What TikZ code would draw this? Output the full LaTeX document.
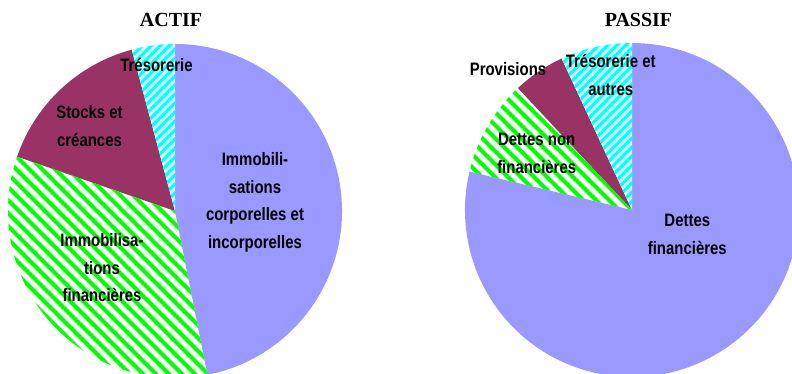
\documentclass[tikz,border=0pt]{standalone}
\usepackage{fontspec}
\newfontfamily\etiqfont[FakeStretch=0.83]{Liberation Sans}
\newfontfamily\titrefont{Liberation Serif}
\definecolor{lavande}{HTML}{9999FF}
\definecolor{bordeaux}{HTML}{993366}
\definecolor{vertvif}{HTML}{00FF00}
\definecolor{cyanclair}{HTML}{CCFFFF}
\definecolor{cyanvif}{HTML}{00FFFF}
\tikzset{
  etiq/.style={font=\etiqfont\bfseries\fontsize{18}{27.5}\selectfont, align=center, anchor=base, inner sep=0pt},
  titre/.style={font=\titrefont\bfseries\fontsize{20}{24}\selectfont, anchor=base, inner sep=0pt},
  raievert/.style={vertvif, line width=4pt},
  raiecyan/.style={cyanvif, line width=3pt}
}
\begin{document}
\begin{tikzpicture}[x=1pt,y=1pt]
\useasboundingbox (0,0) rectangle (792,373);
\coordinate (actif) at (175,162);
\coordinate (passif) at (632,163);
% ACTIF
\fill[lavande] (actif) -- ++(-78.8:167pt) arc[start angle=-78.8, end angle=90, radius=167pt] -- cycle;
\fill[bordeaux] (actif) -- ++(105:167pt) arc[start angle=105, end angle=161, radius=167pt] -- cycle;
\begin{scope}
\clip (actif) -- ++(161:167pt) arc[start angle=161, end angle=281.2, radius=167pt] -- cycle;
\foreach \k in {-30,...,30}
  \draw[raievert] ([shift={(\k*13pt,0)}]actif) ++(-200pt,200pt) -- ++(400pt,-400pt);
\end{scope}
\begin{scope}
\clip (actif) -- ++(90:167pt) arc[start angle=90, end angle=105, radius=167pt] -- cycle;
\fill[cyanclair] (actif) circle[radius=170pt];
\foreach \k in {-40,...,40}
  \draw[raiecyan] ([shift={(\k*9pt,0)}]actif) ++(-200pt,-200pt) -- ++(400pt,400pt);
\end{scope}
% PASSIF
\fill[lavande] (passif) -- ++(166.7:167pt) arc[start angle=166.7, end angle=450, radius=167pt] -- cycle;
\fill[bordeaux] (passif) -- ++(114.9:167pt) arc[start angle=114.9, end angle=133.1, radius=167pt] -- cycle;
\begin{scope}
\clip (passif) -- ++(133.1:167pt) arc[start angle=133.1, end angle=166.7, radius=167pt] -- cycle;
\foreach \k in {-30,...,30}
  \draw[raievert] ([shift={(\k*13pt,0)}]passif) ++(-200pt,200pt) -- ++(400pt,-400pt);
\end{scope}
\begin{scope}
\clip (passif) -- ++(90:167pt) arc[start angle=90, end angle=114.9, radius=167pt] -- cycle;
\fill[cyanclair] (passif) circle[radius=170pt];
\foreach \k in {-40,...,40}
  \draw[raiecyan] ([shift={(\k*9pt,0)}]passif) ++(-200pt,-200pt) -- ++(400pt,400pt);
\end{scope}
% titres et etiquettes (base = derniere ligne)
\node[titre] (tactif) at (171,346.3) {ACTIF};
\node[titre] (tpassif) at (638.5,346.3) {PASSIF};
\node[etiq] (tresoA) at (156.5,301.3) {Trésorerie};
\node[etiq] (stocks) at (89.5,227) {Stocks et\\créances};
\node[etiq] (corpo) at (255,124.7) {Immobili-\\sations\\corporelles et\\incorporelles};
\node[etiq] (finan) at (102,71.3) {Immobilisa-\\tions\\financières};
\node[etiq] (provis) at (508,298) {Provisions};
\node[etiq] (tresoP) at (610.7,278) {Trésorerie et\\autres};
\node[etiq] (dnf) at (536.7,199.7) {Dettes non\\financières};
\node[etiq] (df) at (687.3,119) {Dettes\\financières};
\end{tikzpicture}
\end{document}
